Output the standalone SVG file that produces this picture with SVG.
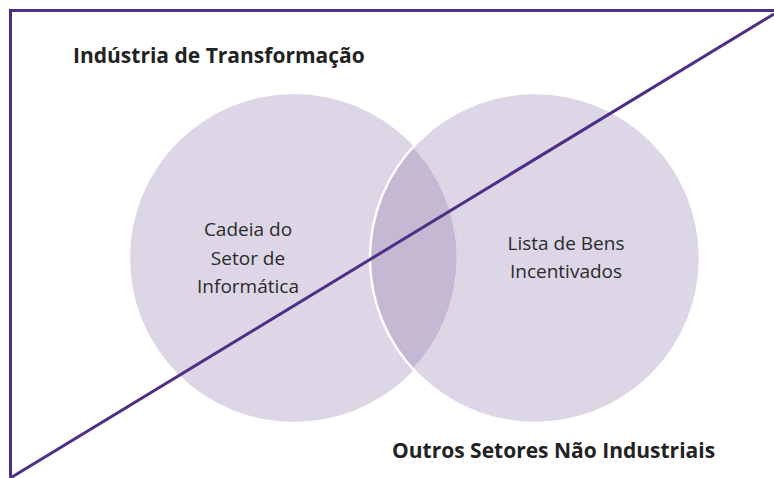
<svg xmlns="http://www.w3.org/2000/svg" width="774" height="478" viewBox="0 0 774 478">
  <style>
    .circle { fill: #dcd6e7; }
    .lens { fill: #c4b8d3; }
    .title { font-family: "Open Sans", "Noto Sans", "Liberation Sans", sans-serif; font-weight: bold; font-size: 21px; fill: #222222; }
    .label { font-family: "Open Sans", "Noto Sans", "Liberation Sans", sans-serif; font-size: 19px; fill: #2b2b2b; text-anchor: middle; }
    .purple { stroke: #4f2e86; stroke-width: 3; fill: none; }
  </style>
  <defs>
    <clipPath id="clipLeft">
      <circle cx="294" cy="258" r="164"/>
    </clipPath>
    <clipPath id="clipRight">
      <circle cx="535" cy="258" r="164"/>
    </clipPath>
  </defs>
  <rect x="0" y="0" width="774" height="478" fill="#ffffff"/>
  <rect class="purple" x="10.5" y="10.5" width="780" height="490"/>

  <g id="node-left">
    <circle class="circle" cx="294" cy="258" r="164"/>
  </g>
  <g id="node-right">
    <circle class="circle" cx="535" cy="258" r="165" stroke="#ffffff" stroke-width="2.5"/>
  </g>
  <g id="node-overlap">
    <circle class="lens" cx="535" cy="258" r="163.8" clip-path="url(#clipLeft)"/>
    <circle cx="294" cy="258" r="163.2" fill="none" stroke="#e4deec" stroke-width="1.2" clip-path="url(#clipRight)"/>
  </g>

  <g id="connectors">
    <line class="purple" x1="12" y1="477" x2="774" y2="14"/>
  </g>

  <g id="label-top">
    <text class="title" x="73" y="63">Indústria de Transformação</text>
  </g>
  <g id="label-bottom">
    <text class="title" x="392" y="458">Outros Setores Não Industriais</text>
  </g>
  <g id="label-left">
    <text class="label" x="248" y="236">Cadeia do</text>
    <text class="label" x="248" y="265">Setor de</text>
    <text class="label" x="248" y="293">Informática</text>
  </g>
  <g id="label-right">
    <text class="label" x="566" y="250">Lista de Bens</text>
    <text class="label" x="566" y="278">Incentivados</text>
  </g>
</svg>
